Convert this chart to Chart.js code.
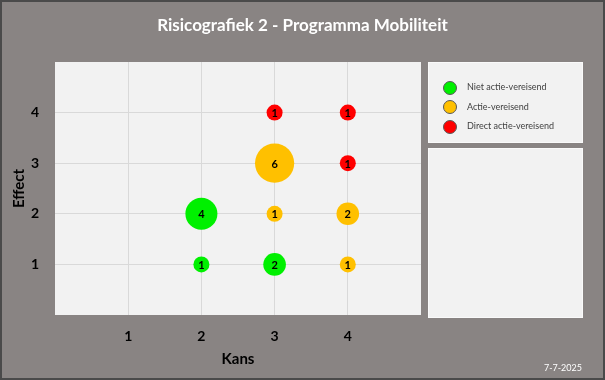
<!DOCTYPE html>
<html>
<head>
<meta charset="utf-8">
<script src="https://cdn.jsdelivr.net/npm/chart.js@4"></script>
<style>
  body { margin: 0; font-family: Lato, "Noto Sans", sans-serif; }
  #frame { position: relative; width: 605px; height: 380px; box-sizing: border-box;
           background: #898483; border: 2px solid #4a4a4a; overflow: hidden; }
  #wrap { position: absolute; left: -2px; top: -2px; width: 605px; height: 380px; }
  #title { position: absolute; left: 0; width: 601px; top: 12px; text-align: center;
           color: #fff; font-weight: bold; font-size: 17px; }
  #date { position: absolute; right: 21px; top: 360px; color: #fff; font-size: 9px; }
  .box { position: absolute; background: #f2f2f2; border: 1px solid #fafafa; box-sizing: border-box; }
  #legend { left: 426px; top: 60px; width: 155px; height: 81px; }
  #notes { left: 426px; top: 146px; width: 155px; height: 170px; }
  .item { position: absolute; left: 14px; font-size: 9px; color: #404040; line-height: 13px; }
  .dot { display: inline-block; width: 12px; height: 12px; border-radius: 50%;
         border: 1px solid #595959; vertical-align: middle; margin-right: 10px; }
</style>
</head>
<body>
<div id="frame">
  <div id="wrap"><canvas id="chart"></canvas></div>
  <div id="title">Risicografiek 2 - Programma Mobiliteit</div>
  <div class="box" id="legend"></div>
  <div class="box" id="notes"></div>
  <div id="date">7-7-2025</div>
</div>
<script>
const kansTicks = [1, 2, 3, 4];
const effectTicks = [1, 2, 3, 4];

const nietKans = [2, 3, 2];
const nietEffect = [1, 1, 2];
const nietAantal = [1, 2, 4];

const actieKans = [3, 3, 4, 4];
const actieEffect = [3, 2, 2, 1];
const actieAantal = [6, 1, 2, 1];

const directKans = [3, 4, 4];
const directEffect = [4, 4, 3];
const directAantal = [1, 1, 1];

const series = [
  { label: 'Niet actie-vereisend', color: '#00f000', kans: nietKans, effect: nietEffect, aantal: nietAantal },
  { label: 'Actie-vereisend', color: '#ffc000', kans: actieKans, effect: actieEffect, aantal: actieAantal },
  { label: 'Direct actie-vereisend', color: '#ff0000', kans: directKans, effect: directEffect, aantal: directAantal }
];

// legend in the right hand box
const legend = document.getElementById('legend');
series.forEach((s, i) => {
  const row = document.createElement('div');
  row.className = 'item';
  row.style.top = (17 + i * 19.5) + 'px';
  row.innerHTML = `<span class="dot" style="background:${s.color}"></span>${s.label}`;
  legend.appendChild(row);
});

const plotBackground = {
  id: 'plotBackground',
  beforeDraw(chart) {
    const { ctx, chartArea: a } = chart;
    ctx.save();
    ctx.fillStyle = '#f2f2f2';
    ctx.fillRect(a.left, a.top, a.right - a.left, a.bottom - a.top);
    ctx.restore();
  }
};

const bubbleLabels = {
  id: 'bubbleLabels',
  afterDatasetsDraw(chart) {
    const ctx = chart.ctx;
    ctx.save();
    ctx.font = 'bold 11px Lato, sans-serif';
    ctx.fillStyle = '#000';
    ctx.textAlign = 'center';
    ctx.textBaseline = 'middle';
    chart.data.datasets.forEach((ds, i) => {
      chart.getDatasetMeta(i).data.forEach((el, j) => {
        ctx.fillText(ds.data[j].count, el.x, el.y + 1);
      });
    });
    ctx.restore();
  }
};

const hideEdge = v => kansTicks.includes(v);

new Chart(document.getElementById('chart'), {
  type: 'bubble',
  data: {
    datasets: series.map(s => ({
      label: s.label,
      data: s.kans.map((k, i) => ({ x: k, y: s.effect[i], count: s.aantal[i] })),
      backgroundColor: s.color,
      borderWidth: 0,
      radius: ctx => 8 * Math.sqrt(ctx.raw.count)
    }))
  },
  options: {
    responsive: true,
    maintainAspectRatio: false,
    animation: false,
    layout: { padding: { left: 0, right: 184, top: 62, bottom: 0 } },
    plugins: { legend: { display: false }, tooltip: { enabled: false } },
    scales: {
      x: {
        min: 0, max: 5,
        afterFit: scale => { scale.height = 65; },
        border: { display: false },
        grid: {
          drawTicks: false,
          color: ctx => hideEdge(ctx.tick.value) ? '#d9d9d9' : 'transparent'
        },
        ticks: {
          stepSize: 1, padding: 13, color: '#000',
          font: { family: 'Lato', size: 14, weight: 'bold' },
          callback: v => hideEdge(v) ? v : ''
        },
        title: {
          display: true, text: 'Kans', color: '#000',
          font: { family: 'Lato', size: 15, weight: 'bold' },
          padding: { top: 0, bottom: 12 }
        }
      },
      y: {
        min: 0, max: 5,
        afterFit: scale => { scale.width = 55; },
        border: { display: false },
        grid: {
          drawTicks: false,
          color: ctx => effectTicks.includes(ctx.tick.value) ? '#d9d9d9' : 'transparent'
        },
        ticks: {
          stepSize: 1, padding: 16, color: '#000',
          font: { family: 'Lato', size: 14, weight: 'bold' },
          callback: v => effectTicks.includes(v) ? v : ''
        },
        title: {
          display: true, text: 'Effect', color: '#000',
          font: { family: 'Lato', size: 15, weight: 'bold' },
          padding: { top: 10, bottom: 0 }
        }
      }
    }
  },
  plugins: [plotBackground, bubbleLabels]
});
</script>
</body>
</html>
